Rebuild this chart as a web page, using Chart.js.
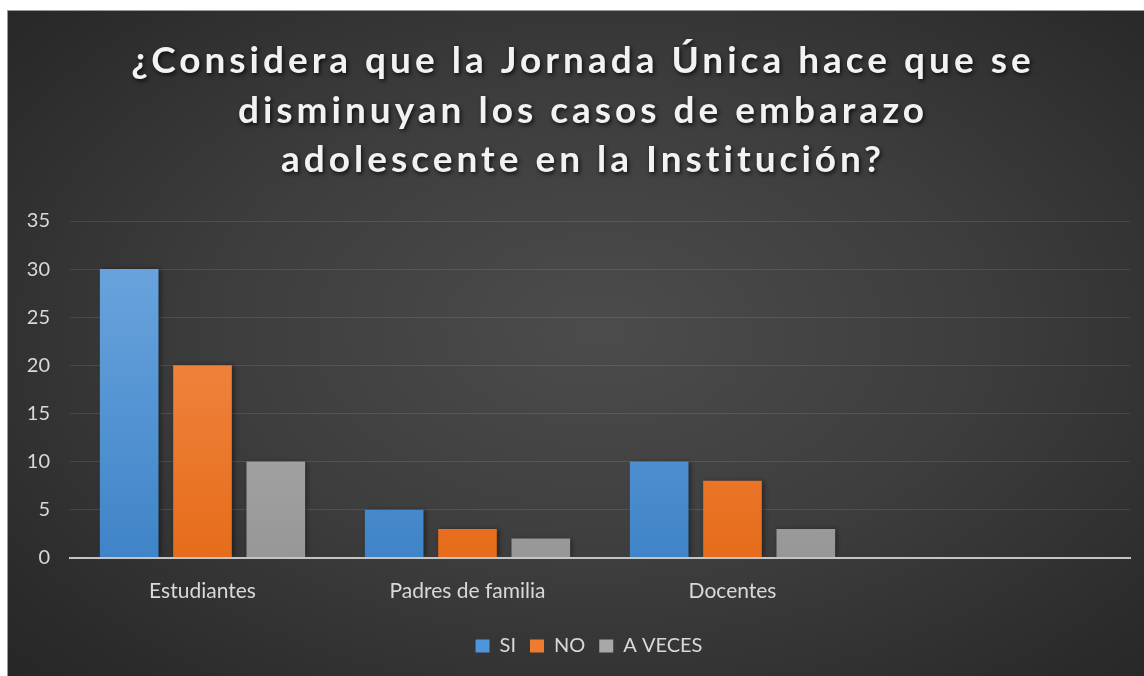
<!DOCTYPE html>
<html>
<head>
<meta charset="utf-8">
<script src="https://cdn.jsdelivr.net/npm/chart.js@4.4.1/dist/chart.umd.min.js"></script>
<style>
  html, body { margin: 0; padding: 0; background: #ffffff; }
  body { width: 1144px; height: 676px; overflow: hidden; position: relative; }
  #wrap {
    position: absolute; left: 7px; top: 10px; width: 1137px; height: 666px;
    background: radial-gradient(ellipse 75% 80% at 52% 48%, #4c4c4c 0%, #3d3d3d 45%, #2a2a2a 85%, #252525 100%);
    border-top: 1px solid #9a9a9a; border-left: 1px solid #9a9a9a; box-sizing: border-box;
  }
  canvas { display: block; }
</style>
</head>
<body>
<div id="wrap"><canvas id="c" width="1136" height="665"></canvas></div>
<script>
const titleLines = ["¿Considera que la Jornada Única hace que se", "disminuyan los casos de embarazo", "adolescente en la Institución?"];
const categories = ["Estudiantes", "Padres de familia", "Docentes", ""];
const seriesNames = ["SI", "NO", "A VECES"];
const siValues = [30, 5, 10, null];
const noValues = [20, 3, 8, null];
const aVecesValues = [10, 2, 3, null];
const yTicks = { min: 0, max: 35, step: 5 };

const legendColors = ["#4f95db", "#ee7b2e", "#a8a8a8"];
const gradStops = [
  ["#6fa8e0", "#3f84c8"],
  ["#f59253", "#e66c1a"],
  ["#b8b8b8", "#979797"]
];

function barGradient(idx) {
  return function(ctx) {
    const chart = ctx.chart;
    const area = chart.chartArea;
    if (!area) return legendColors[idx];
    const g = chart.ctx.createLinearGradient(0, area.top, 0, area.bottom);
    g.addColorStop(0, gradStops[idx][0]);
    g.addColorStop(1, gradStops[idx][1]);
    return g;
  };
}

const titlePlugin = {
  id: 'titleText',
  afterDraw(chart) {
    const ctx = chart.ctx;
    ctx.save();
    ctx.font = "bold 37px Lato";
    ctx.letterSpacing = "4px";
    ctx.fillStyle = "#f2f2f2";
    ctx.textAlign = "center";
    ctx.textBaseline = "alphabetic";
    ctx.shadowColor = "rgba(0,0,0,0.75)";
    ctx.shadowBlur = 4;
    ctx.shadowOffsetX = 1.5;
    ctx.shadowOffsetY = 2;
    const cx = chart.width / 2 + 7;
    titleLines.forEach((t, i) => ctx.fillText(t, cx, 62 + i * 49.5));
    ctx.restore();
  }
};

const shadowPlugin = {
  id: 'barShadow',
  beforeDatasetsDraw(chart) {
    const ctx = chart.ctx;
    ctx.save();
    ctx.shadowColor = "rgba(0,0,0,0.45)";
    ctx.shadowBlur = 5;
    ctx.shadowOffsetX = 2;
    ctx.shadowOffsetY = 0;
  },
  afterDatasetsDraw(chart) {
    chart.ctx.restore();
  }
};

const legendShift = {
  id: 'legendShift',
  afterLayout(chart) {
    const lg = chart.legend;
    if (lg) { lg.left += 20; lg.right += 20; }
  }
};

const data = {
  labels: categories,
  datasets: [siValues, noValues, aVecesValues].map((vals, i) => ({
    label: seriesNames[i],
    data: vals,
    backgroundColor: barGradient(i),
    borderWidth: 0,
    barPercentage: 0.8,
    categoryPercentage: 0.83
  }))
};

new Chart(document.getElementById('c'), {
  type: 'bar',
  data,
  options: {
    responsive: false,
    animation: false,
    layout: { padding: { top: 210, left: 0, right: 14, bottom: 10 } },
    plugins: {
      title: { display: false },
      tooltip: { enabled: false },
      legend: {
        position: 'bottom',
        labels: {
          color: "#d9d9d9",
          font: { family: "Lato", size: 20 },
          boxWidth: 14,
          boxHeight: 13,
          padding: 14,
          generateLabels(chart) {
            return chart.data.datasets.map((ds, i) => ({
              text: ds.label,
              fillStyle: legendColors[i],
              strokeStyle: legendColors[i],
              lineWidth: 0,
              fontColor: "#d9d9d9",
              datasetIndex: i,
              hidden: false
            }));
          }
        }
      }
    },
    scales: {
      x: {
        grid: { display: false },
        border: { display: true, color: "#c4c4c4", width: 2, z: 1 },
        ticks: { color: "#d9d9d9", font: { family: "Lato", size: 21 }, padding: 13 },
        afterFit(scale) { scale.height += 5; }
      },
      y: {
        min: yTicks.min,
        max: yTicks.max,
        ticks: { stepSize: yTicks.step, color: "#d9d9d9", font: { family: "Lato", size: 20 }, padding: 20 },
        grid: { color: "rgba(255,255,255,0.10)", lineWidth: 1, drawTicks: false },
        border: { display: false },
        afterFit(scale) { scale.width = 62; }
      }
    }
  },
  plugins: [shadowPlugin, titlePlugin, legendShift]
});
</script>
</body>
</html>
